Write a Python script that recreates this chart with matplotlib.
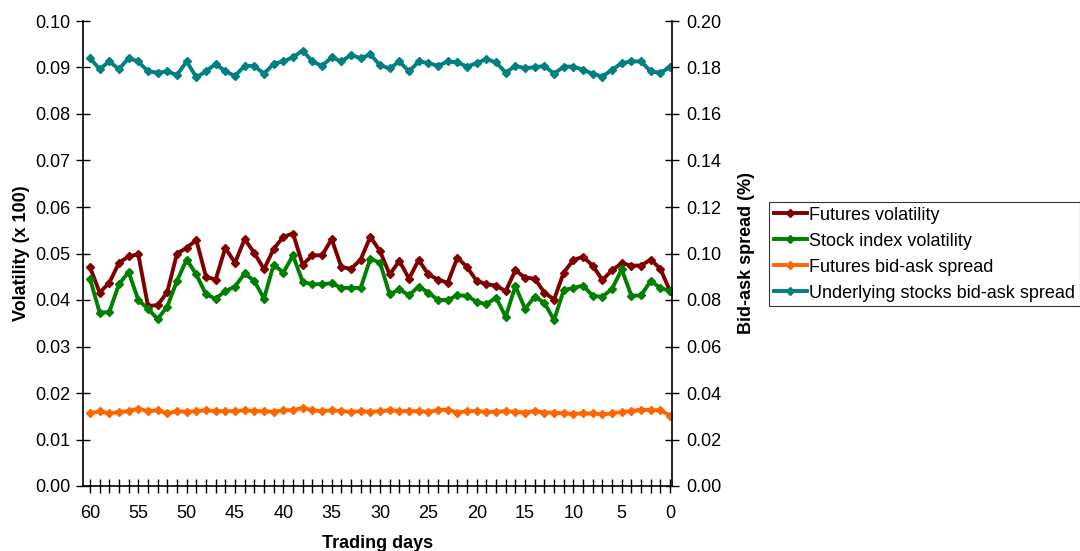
import numpy as np
import matplotlib
matplotlib.use("Agg")
import matplotlib.pyplot as plt
from matplotlib.ticker import FormatStrFormatter, MultipleLocator

plt.rcParams['font.family'] = ['Liberation Sans', 'DejaVu Sans']

days = list(range(60, -1, -1))

futures_vol = [0.0471, 0.0416, 0.0437, 0.0480, 0.0494, 0.0498, 0.0387, 0.0389, 0.0417, 0.0500,
               0.0512, 0.0529, 0.0450, 0.0444, 0.0512, 0.0480, 0.0531, 0.0501, 0.0466, 0.0510,
               0.0536, 0.0543, 0.0476, 0.0496, 0.0496, 0.0531, 0.0471, 0.0467, 0.0487, 0.0536,
               0.0505, 0.0455, 0.0484, 0.0446, 0.0486, 0.0455, 0.0444, 0.0437, 0.0491, 0.0471,
               0.0441, 0.0434, 0.0431, 0.0419, 0.0464, 0.0448, 0.0446, 0.0416, 0.0401, 0.0459,
               0.0486, 0.0493, 0.0474, 0.0443, 0.0464, 0.0479, 0.0474, 0.0474, 0.0487, 0.0467,
               0.0419]

index_vol = [0.0446, 0.0373, 0.0374, 0.0434, 0.0460, 0.0400, 0.0381, 0.0359, 0.0386, 0.0441,
             0.0487, 0.0455, 0.0412, 0.0403, 0.0419, 0.0429, 0.0457, 0.0441, 0.0403, 0.0476,
             0.0459, 0.0496, 0.0439, 0.0434, 0.0434, 0.0436, 0.0426, 0.0426, 0.0426, 0.0489,
             0.0480, 0.0412, 0.0423, 0.0410, 0.0429, 0.0416, 0.0400, 0.0400, 0.0410, 0.0409,
             0.0396, 0.0391, 0.0405, 0.0364, 0.0430, 0.0381, 0.0407, 0.0394, 0.0357, 0.0421,
             0.0426, 0.0431, 0.0409, 0.0407, 0.0424, 0.0466, 0.0409, 0.0410, 0.0441, 0.0426,
             0.0419]

futures_spread = [0.0312, 0.0322, 0.0312, 0.0319, 0.0322, 0.0333, 0.0322, 0.0326, 0.0312, 0.0322,
                  0.0319, 0.0322, 0.0326, 0.0322, 0.0322, 0.0322, 0.0326, 0.0322, 0.0322, 0.0319,
                  0.0326, 0.0326, 0.0336, 0.0326, 0.0322, 0.0326, 0.0322, 0.0319, 0.0322, 0.0319,
                  0.0322, 0.0326, 0.0322, 0.0322, 0.0322, 0.0319, 0.0326, 0.0329, 0.0316, 0.0322,
                  0.0322, 0.0319, 0.0319, 0.0322, 0.0319, 0.0316, 0.0322, 0.0316, 0.0316, 0.0312,
                  0.0311, 0.0312, 0.0312, 0.0308, 0.0312, 0.0319, 0.0322, 0.0329, 0.0326, 0.0326,
                  0.0303]

stocks_spread = [0.1840, 0.1793, 0.1826, 0.1793, 0.1840, 0.1826, 0.1783, 0.1778, 0.1783, 0.1768,
                 0.1826, 0.1758, 0.1783, 0.1816, 0.1783, 0.1764, 0.1807, 0.1807, 0.1773, 0.1816,
                 0.1826, 0.1844, 0.1873, 0.1826, 0.1807, 0.1844, 0.1826, 0.1854, 0.1840, 0.1856,
                 0.1810, 0.1796, 0.1826, 0.1783, 0.1826, 0.1819, 0.1807, 0.1826, 0.1822, 0.1804,
                 0.1819, 0.1836, 0.1822, 0.1778, 0.1807, 0.1797, 0.1801, 0.1807, 0.1773, 0.1804,
                 0.1804, 0.1790, 0.1773, 0.1761, 0.1790, 0.1819, 0.1826, 0.1826, 0.1783, 0.1778,
                 0.1801]

series_left = [("Futures volatility", futures_vol, "#800000"),
               ("Stock index volatility", index_vol, "#008000")]
series_right = [("Futures bid-ask spread", futures_spread, "#FF6600"),
                ("Underlying stocks bid-ask spread", stocks_spread, "#008080")]

FS = 13

fig = plt.figure(figsize=(10.8, 5.51), dpi=100)
ax = fig.add_axes([83/1080, 1-486/551, (672-83)/1080, (486-21)/551])
ax2 = ax.twinx()

handles = []
for name, vals, col in series_left:
    h, = ax.plot(days, vals, color=col, lw=2.8, marker='D', ms=4, mec=col, mfc=col, label=name)
    handles.append(h)
for name, vals, col in series_right:
    h, = ax2.plot(days, vals, color=col, lw=2.8, marker='D', ms=4, mec=col, mfc=col, label=name)
    handles.append(h)

ax.set_xlim(60.72, -0.2)
ax.set_ylim(0, 0.10)
ax2.set_ylim(0, 0.20)
ax.yaxis.set_major_locator(MultipleLocator(0.01))
ax2.yaxis.set_major_locator(MultipleLocator(0.02))
ax.yaxis.set_major_formatter(FormatStrFormatter('%.2f'))
ax2.yaxis.set_major_formatter(FormatStrFormatter('%.2f'))
ax.xaxis.set_major_locator(MultipleLocator(5))
ax.xaxis.set_minor_locator(MultipleLocator(1))

for a in (ax, ax2):
    a.spines['top'].set_visible(False)
    a.tick_params(axis='both', which='both', direction='inout', labelsize=FS, colors='black')
ax.tick_params(axis='y', length=10, width=1, pad=4)
ax2.tick_params(axis='y', length=10, width=1, pad=5)
ax.tick_params(axis='x', which='major', length=10, width=1, pad=9)
ax.tick_params(axis='x', which='minor', length=10, width=1)
for s in ('left', 'bottom'):
    ax.spines[s].set_linewidth(1.2)
ax2.spines['right'].set_linewidth(1.2)
ax.spines['right'].set_visible(False)
ax2.spines['left'].set_visible(False)
ax2.spines['bottom'].set_visible(False)

ax.set_xlabel("Trading days", fontsize=FS, fontweight='bold', labelpad=9)
ax.set_ylabel("Volatility (x 100)", fontsize=FS, fontweight='bold', labelpad=4)
ax2.set_ylabel("Bid-ask spread (%)", fontsize=FS, fontweight='bold', labelpad=12)

leg = fig.legend(handles=handles, loc='upper left', bbox_to_anchor=(769/1080, 1-202/551),
                 fontsize=FS, frameon=True, fancybox=False, edgecolor='black',
                 handlelength=1.85, handletextpad=0.12, borderpad=0.25, borderaxespad=0,
                 labelspacing=0.5)
leg.get_frame().set_linewidth(0.8)

fig.savefig("out.png", dpi=100)
